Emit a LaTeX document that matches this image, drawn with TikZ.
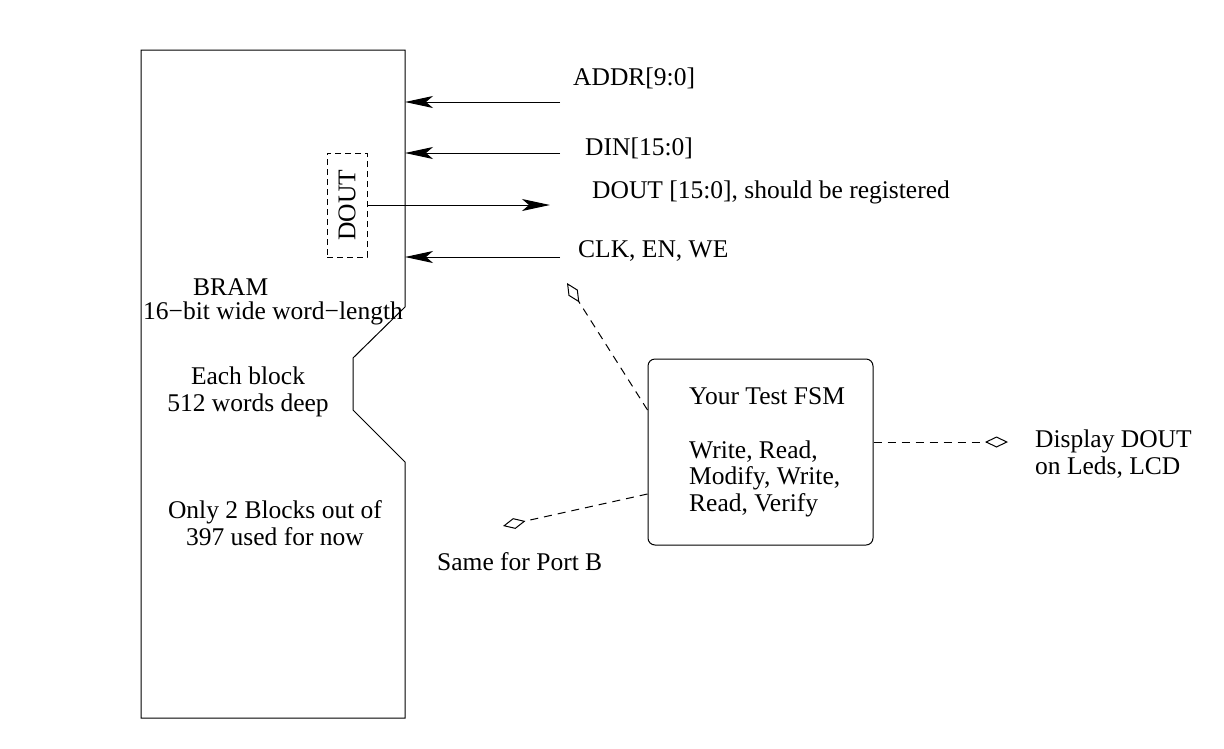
\documentclass[tikz,border=0pt]{standalone}
\usepackage{fontspec}
\setmainfont{Liberation Serif}
\usetikzlibrary{arrows.meta}

\begin{document}
\begin{tikzpicture}[x=1pt,y=-1pt,
  txt/.style={inner sep=0pt,font=\fontsize{25.5}{26.5}\selectfont},
  sig/.style={line width=1pt,-{Stealth[length=28pt,width=12pt,inset=7pt]}},
  hint/.style={line width=1pt,dash pattern=on 8pt off 6pt,-{Diamond[open,length=23pt,width=11pt]}}]

\useasboundingbox (0,0) rectangle (1224,748);

\coordinate (a) at (141,50);
\coordinate (b) at (405,50);
\coordinate (c) at (405,307);
\coordinate (d) at (353,358);
\coordinate (e) at (353,410);
\coordinate (f) at (405,462);
\coordinate (g) at (405,718);
\coordinate (h) at (141,718);
\draw[line width=1pt] (a) -- (b) -- (c) -- (d) -- (e) -- (f) -- (g) -- (h) -- cycle;

\node[txt,draw,line width=1pt,dash pattern=on 6pt off 4pt,minimum width=40pt,minimum height=104pt] (dout) at (347,205) {\rotatebox{90}{DOUT}};

\coordinate (s1) at (560,102);
\coordinate (t1) at (405,102);
\coordinate (s2) at (560,153);
\coordinate (t2) at (405,153);
\coordinate (t3) at (550,205);
\coordinate (s4) at (560,257);
\coordinate (t4) at (405,257);
\draw[sig] (s1) -- (t1);
\draw[sig] (s2) -- (t2);
\draw[sig] (dout.east) -- (t3);
\draw[sig] (s4) -- (t4);

\node[txt,anchor=base west] (addr) at (573,85) {ADDR[9:0]};
\node[txt,anchor=base west] (din) at (585,155) {DIN[15:0]};
\node[txt,anchor=base west] (dlab) at (592,198) {DOUT [15:0], should be registered};
\node[txt,anchor=base west] (clk) at (578,257) {CLK, EN, WE};

\node[txt,anchor=base west] (bram) at (193,295) {BRAM};
\node[txt,anchor=base west] (wide) at (143,319) {16−bit wide word−length};
\node[txt,anchor=base,align=center] (deep) at (248,411) {Each block\\512 words deep};
\node[txt,anchor=base,align=center] (used) at (275,545) {Only 2 Blocks out of\\397 used for now};

\node[draw,line width=1pt,rounded corners=7pt,minimum width=225pt,minimum height=186pt] (fsm) at (760.5,452) {};
\node[txt,anchor=base west,align=left] (steps) at (689,511) {Your Test FSM\\[27.5pt]Write, Read,\\Modify, Write,\\Read, Verify};

\coordinate (u) at (567,283);
\coordinate (v) at (503,526);
\coordinate (w) at (1008,442);
\draw[hint] (fsm.west |- 0,410) -- (u);
\draw[hint] (fsm.west |- 0,494) -- (v);
\draw[hint] (fsm.east |- 0,442) -- (w);

\node[txt,anchor=base west] (portb) at (437,570) {Same for Port B};
\node[txt,anchor=base west,align=left] (leds) at (1035,474) {Display DOUT\\on Leds, LCD};

\end{tikzpicture}
\end{document}
